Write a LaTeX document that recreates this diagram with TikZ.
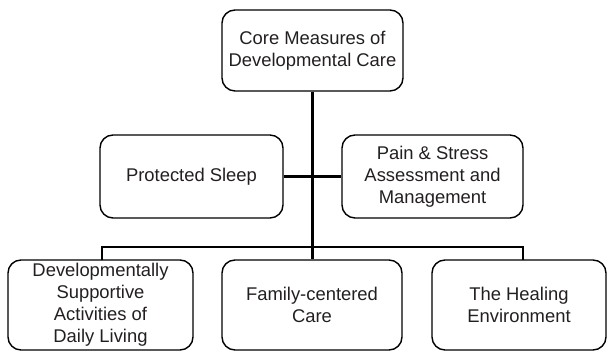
\documentclass[tikz,border=0pt]{standalone}
\usepackage{fontspec}
\setmainfont{Liberation Sans}
\definecolor{txt}{HTML}{231F20}
\begin{document}
\begin{tikzpicture}[x=1pt,y=1pt,
  box/.style={draw=black, line width=1.4pt, rounded corners=13pt, align=center,
    text=txt, inner sep=0pt,
    font=\fontsize{18.4pt}{22pt}\selectfont},
  conn/.style={draw=black, line width=2.3pt}]
\useasboundingbox (0,0) rectangle (608,352);
\node[box, minimum width=181pt, minimum height=81pt] (top) at (312.5,301.5) {Core Measures of\\Developmental Care};
\node[box, minimum width=183pt, minimum height=83pt] (sleep) at (191.5,175.5) {Protected Sleep};
\node[box, minimum width=181pt, minimum height=83pt] (pain) at (432.5,175.5) {Pain \& Stress\\Assessment and\\Management};
\node[box, minimum width=185pt, minimum height=90pt] (dev) at (100.5,47) {Developmentally\\Supportive\\Activities of\\Daily Living};
\node[box, minimum width=180pt, minimum height=90pt] (fam) at (312,47) {Family-centered\\Care};
\node[box, minimum width=174pt, minimum height=90pt] (heal) at (519,47) {The Healing\\Environment};
\coordinate (bar) at (312.5,105);
\coordinate (barL) at (102,105);
\coordinate (barR) at (523,105);
\draw[conn] (top.south) -- (bar);
\draw[conn] (sleep.east) -- (pain.west);
\draw[conn, line cap=rect] (barL |- dev.north) -- (barL) -- (barR) -- (barR |- heal.north);
\draw[conn] (bar) -- (bar |- fam.north);
\end{tikzpicture}
\end{document}
